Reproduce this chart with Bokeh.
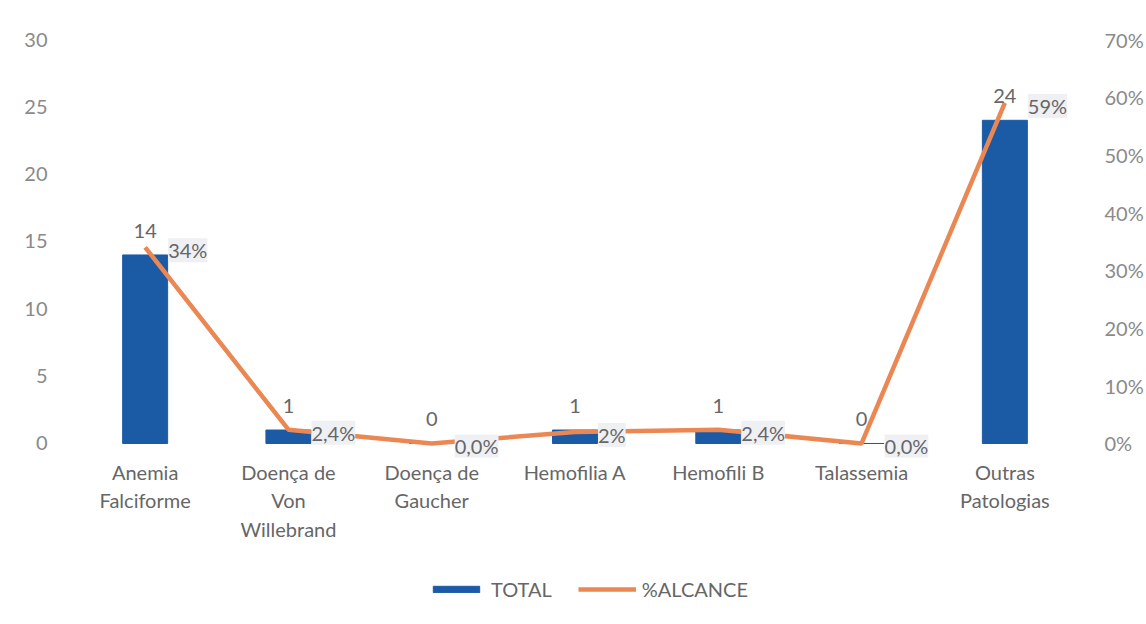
from bokeh.plotting import figure
from bokeh.layouts import column
from bokeh.models import (FactorRange, Range1d, LinearAxis, ColumnDataSource, LabelSet,
                          Legend, LegendItem, FixedTicker, NumeralTickFormatter)
from bokeh.core.properties import value
from bokeh.embed import file_html
from bokeh.resources import INLINE

categories = ["Anemia\nFalciforme", "Doença de\nVon\nWillebrand", "Doença de\nGaucher",
              "Hemofilia A", "Hemofili B", "Talassemia", "Outras\nPatologias"]
total = [14, 1, 0, 1, 1, 0, 24]
alcance = [0.34, 0.024, 0.0, 0.02, 0.024, 0.0, 0.59]
alcance_labels = ["34%", "2,4%", "0,0%", "2%", "2,4%", "0,0%", "59%"]
total_labels = ["14", "1", "0", "1", "1", "0", "24"]

FONT = "Lato"
FS = "20px"
BAR = "#1b5ba6"
LINE = "#ea8753"
TXT = "#666666"
AX = "#8a8a8a"
LOW = -1.04  # small room below zero so the labels at 0 are not clipped

src = ColumnDataSource(dict(cat=categories, total=total, alc=alcance,
                            alc_lbl=alcance_labels, tot_lbl=total_labels))

p = figure(width=1146, height=564, x_range=FactorRange(*categories, range_padding=0),
           y_range=Range1d(LOW, 30), output_backend="svg", toolbar_location=None,
           min_border_left=73, min_border_right=70, min_border_top=39, min_border_bottom=107)
p.outline_line_color = None
p.grid.visible = False
p.extra_y_ranges = {"pct": Range1d(LOW / 30 * 0.7, 0.7)}

bars = p.vbar(x="cat", top="total", width=0.314, source=src, color=BAR)
line = p.line(x="cat", y="alc", source=src, y_range_name="pct", line_color=LINE, line_width=4.5)

# left axis
ya = p.yaxis[0]
ya.ticker = FixedTicker(ticks=[0, 5, 10, 15, 20, 25, 30])
ya.axis_line_color = None
ya.major_tick_line_color = None
ya.minor_tick_line_color = None
ya.major_label_text_font = FONT
ya.major_label_text_font_size = FS
ya.major_label_text_color = AX
ya.major_label_standoff = 20

ra = LinearAxis(y_range_name="pct", ticker=FixedTicker(ticks=[0, .1, .2, .3, .4, .5, .6, .7]),
                formatter=NumeralTickFormatter(format="0%"))
ra.axis_line_color = None
ra.major_tick_line_color = None
ra.minor_tick_line_color = None
ra.major_label_text_font = FONT
ra.major_label_text_font_size = FS
ra.major_label_text_color = AX
ra.major_label_standoff = 22
p.add_layout(ra, "right")

xa = p.xaxis[0]
xa.axis_line_color = None
xa.major_tick_line_color = None
xa.minor_tick_line_color = None
xa.major_label_text_font = FONT
xa.major_label_text_font_size = FS
xa.major_label_text_color = TXT
xa.major_label_text_line_height = 1.2
xa.major_label_standoff = -4

# bar value labels
p.add_layout(LabelSet(x="cat", y="total", text="tot_lbl", source=src, text_align="center",
                      text_baseline="middle", y_offset=24, text_font=value(FONT),
                      text_font_size=FS, text_color=TXT))
# percent labels
p.add_layout(LabelSet(x="cat", y="alc", text="alc_lbl", source=src, y_range_name="pct",
                      text_align="left", text_baseline="middle", x_offset=23, y_offset=-3,
                      text_font=value(FONT), text_font_size=FS, text_color=TXT,
                      background_fill_color="#eff0f3", background_fill_alpha=1.0))

# legend strip (separate figure below the chart; its glyphs lie outside its visible range)
lf = figure(width=1146, height=60, x_range=FactorRange(*categories, range_padding=0),
            y_range=Range1d(100, 101), output_backend="svg", toolbar_location=None,
            min_border=0)
lf.axis.visible = False
lf.grid.visible = False
lf.outline_line_color = None
lb = lf.vbar(x="cat", top="total", width=0.314, source=src, color=BAR)
ll = lf.line(x="cat", y="total", source=src, line_color=LINE, line_width=4.5)
legend = Legend(items=[LegendItem(label="TOTAL", renderers=[lb]),
                       LegendItem(label="%ALCANCE", renderers=[ll])],
                orientation="horizontal", location=(354, 23),
                glyph_width=58, glyph_height=8, label_text_font=FONT,
                label_text_font_size=FS, label_text_color=TXT,
                border_line_color=None, background_fill_alpha=0,
                spacing=26, label_standoff=6, margin=0, padding=4)
lf.add_layout(legend, "center")

open("out.html", "w").write(file_html(column(p, lf), INLINE))
